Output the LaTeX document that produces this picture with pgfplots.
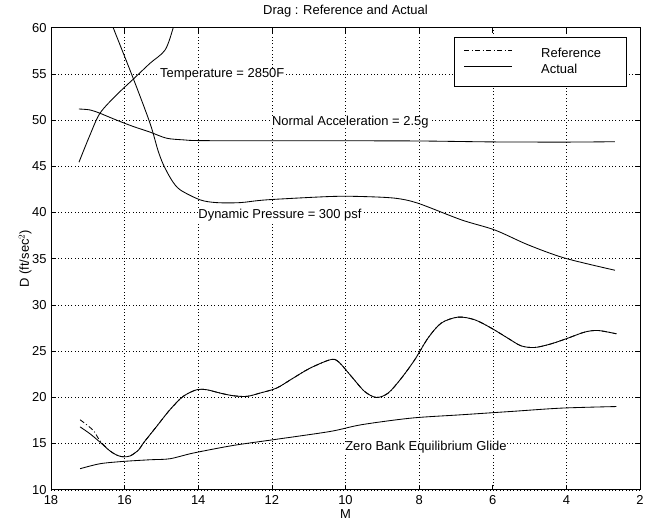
\documentclass[border=0pt]{standalone}
\usepackage{fontspec}
\setmainfont{Liberation Sans}
\usepackage{pgfplots}
\pgfplotsset{compat=1.18}
\usetikzlibrary{calc}

\newcommand{\chartfont}{\fontsize{13}{15}\selectfont}

\begin{document}
\chartfont
\begin{tikzpicture}
\begin{axis}[
    scale only axis,
    width=589bp, height=462bp,
    x dir=reverse,
    xmin=2, xmax=18, ymin=10, ymax=60,
    xtick={2,4,...,18}, ytick={10,15,...,60},
    grid=major,
    major grid style={black, line width=0.4pt, dash pattern=on 0.8bp off 2.6bp},
    tick align=inside, tick pos=both,
    major tick length=5bp,
    tick style={black, line width=0.5pt},
    axis line style={line width=0.8pt},
    /pgf/number format/assume math mode=true,
    tick label style={font=\chartfont},
    xticklabel style={yshift=-1bp},
    title={Drag : Reference and Actual},
    title style={font=\chartfont, yshift=0bp},
    xlabel={M},
    ylabel={D (ft/sec$^2$)},
    label style={font=\chartfont},
    every axis x label/.style={at={(ticklabel cs:0.5)}, anchor=north, inner sep=1bp},
    every axis y label/.style={at={(ticklabel cs:0.5,-4bp)}, rotate=90, anchor=south, inner sep=0bp},
    legend style={at={(0.978,0.98)}, anchor=north east, draw=black, line width=0.6pt,
        inner xsep=10bp, inner ysep=9bp, row sep=1bp,
        nodes={inner sep=1.5bp, font=\chartfont, text height=9.5bp, text depth=2.5bp},
        /tikz/every odd column/.append style={column sep=27bp}},
    legend image code/.code={\draw[#1, line width=0.6pt] (0bp,3bp) -- (48bp,3bp);},
    every axis plot/.append style={black, line width=0.85pt},
]
% Reference trajectory
\addplot[smooth, dash pattern=on 5bp off 2.5bp on 1bp off 2.5bp] coordinates {
    (17.21,17.57) (16.86,16.45) (16.67,15.30) (16.40,14.20) (16.20,13.72) (16.04,13.56)
    (15.85,13.65) (15.62,14.30)
    (15.49,15.05) (15.13,16.85) (14.77,18.65) (14.41,20.10) (14.04,20.82) (13.77,20.82)
    (13.41,20.46) (13.05,20.17) (12.68,20.10) (12.32,20.46) (11.87,21.00) (11.42,22.08)
    (10.96,23.16) (10.42,24.06) (10.20,23.88) (9.84,22.26) (9.48,20.63) (9.16,19.98)
    (8.84,20.46) (8.48,22.08) (8.12,24.06) (7.76,26.40) (7.40,28.03) (6.94,28.68)
    (6.49,28.39) (6.04,27.49) (5.59,26.40) (5.23,25.57) (4.86,25.39) (4.41,25.79)
    (3.96,26.40) (3.50,27.06) (3.14,27.23) (2.64,26.87)
};
\addlegendentry{\makebox[74bp][l]{Reference}}
% Actual trajectory
\addplot[smooth] coordinates {
    (17.21,16.80) (16.94,16.05) (16.67,15.15) (16.40,14.20) (16.20,13.72) (16.04,13.56)
    (15.85,13.65) (15.62,14.30)
    (15.49,15.05) (15.13,16.85) (14.77,18.65) (14.41,20.10) (14.04,20.82) (13.77,20.82)
    (13.41,20.46) (13.05,20.17) (12.68,20.10) (12.32,20.46) (11.87,21.00) (11.42,22.08)
    (10.96,23.16) (10.42,24.06) (10.20,23.88) (9.84,22.26) (9.48,20.63) (9.16,19.98)
    (8.84,20.46) (8.48,22.08) (8.12,24.06) (7.76,26.40) (7.40,28.03) (6.94,28.68)
    (6.49,28.39) (6.04,27.49) (5.59,26.40) (5.23,25.57) (4.86,25.39) (4.41,25.79)
    (3.96,26.40) (3.50,27.06) (3.14,27.23) (2.64,26.87)
};
\addlegendentry{\makebox[74bp][l]{Actual}}
% Temperature = 2850F
\addplot[smooth, forget plot] coordinates {
    (17.24,45.44) (16.95,48.30) (16.67,50.74) (16.22,52.72) (15.76,54.45) (15.31,56.15)
    (14.90,57.59) (14.68,60.00) (14.60,61.50)
};
% Dynamic Pressure = 300 psf
\addplot[smooth, forget plot] coordinates {
    (16.40,61.00) (16.31,60.00) (15.76,54.45) (15.31,49.66) (15.10,46.80) (14.95,45.20)
    (14.72,43.50) (14.49,42.45) (13.95,41.37) (13.50,41.07) (12.86,41.07) (12.14,41.37)
    (10.42,41.73) (9.57,41.73) (8.66,41.55) (8.03,41.00) (6.85,39.20) (5.94,38.10)
    (5.04,36.50) (4.04,35.06) (2.68,33.75)
};
% Normal Acceleration = 2.5g
\addplot[smooth, forget plot] coordinates {
    (17.24,51.20) (16.94,51.10) (16.67,50.74) (16.22,50.00) (15.76,49.30) (15.31,48.70)
    (14.86,48.04) (14.40,47.86) (13.95,47.78) (12.00,47.76) (10.00,47.76) (8.00,47.74)
    (6.00,47.64) (4.00,47.62) (2.68,47.66)
};
% Zero Bank Equilibrium Glide
\addplot[smooth, forget plot] coordinates {
    (17.21,12.27) (16.67,12.81) (16.04,13.06) (15.31,13.24) (14.77,13.35) (14.13,13.97)
    (13.05,14.79) (11.96,15.41) (10.42,16.30) (9.57,17.03) (8.21,17.75) (6.85,18.11)
    (5.49,18.47) (4.13,18.83) (2.64,19.00)
};
\node[anchor=base west, inner sep=0pt, fill=white] at (axis cs:15.04,54.6) {Temperature = 2850F};
\node[anchor=base west, inner sep=0pt, fill=white] at (axis cs:12.00,49.45) {Normal Acceleration = 2.5g};
\node[anchor=base west, inner sep=0pt, fill=white] at (axis cs:14.00,39.35) {Dynamic Pressure = 300 psf};
\node[anchor=base west, inner sep=0pt, fill=white] at (axis cs:10.01,14.2) {Zero Bank Equilibrium Glide};
\coordinate (bl) at (axis cs:18,10);
\coordinate (tr) at (axis cs:2,60);
\end{axis}
\pgfresetboundingbox
\path ($(bl)+(-51bp,-35bp)$) rectangle ($(tr)+(16bp,27.7bp)$);
\end{tikzpicture}
\end{document}
